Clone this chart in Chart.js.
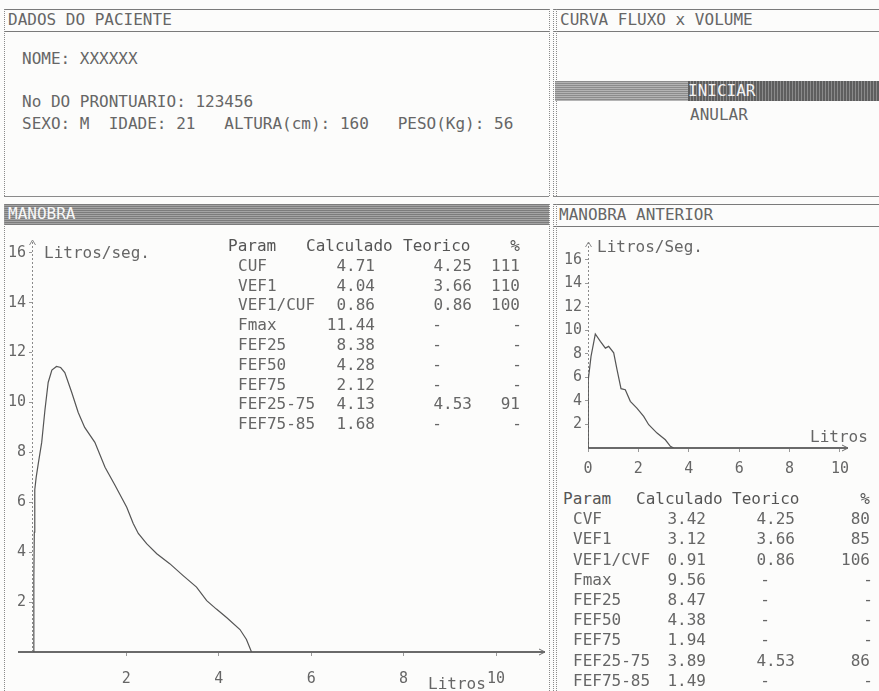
<!DOCTYPE html>
<html>
<head>
<meta charset="utf-8">
<script src="https://cdn.jsdelivr.net/npm/chart.js@4.4.1/dist/chart.umd.min.js"></script>
<style>
  html, body { margin: 0; padding: 0; }
  body {
    width: 879px; height: 691px; position: relative; overflow: hidden;
    background: #fcfcfb; color: #666;
    font-family: 'DejaVu Sans Mono', 'Liberation Mono', monospace; font-size: 16px;
  }
  .t { position: absolute; white-space: pre; line-height: 18px; }
  .ln { position: absolute; box-sizing: border-box; }
  canvas { position: absolute; }
  .bar {
    position: absolute;
    background: repeating-linear-gradient(to bottom, #7c7c7c 0px, #7c7c7c 1px, #a4a4a4 1px, #a4a4a4 2px);
  }
</style>
</head>
<body>
<canvas id="mainChart" width="543" height="462" style="left:5px; top:228px;"></canvas>
<canvas id="prevChart" width="320" height="250" style="left:555px; top:228px;"></canvas>
<script>
'use strict';

// curva da manobra atual (volume em litros, fluxo em L/s)
var mainVol  = [0, 0.00, 0.01, 0.02, 0.05, 0.10, 0.17, 0.24, 0.31, 0.39, 0.49, 0.58, 0.67, 0.82, 0.96, 1.10, 1.32, 1.54, 1.75, 2.01, 2.15, 2.26, 2.44, 2.66, 2.94, 3.23, 3.52, 3.74, 3.95, 4.17, 4.46, 4.60, 4.71];
var mainFlow = [0, 3.0, 4.8, 6.5, 7.0, 7.6, 8.4, 9.7, 10.8, 11.3, 11.44, 11.4, 11.2, 10.4, 9.6, 9.0, 8.4, 7.4, 6.7, 5.8, 5.15, 4.75, 4.34, 3.94, 3.54, 3.06, 2.6, 2.06, 1.72, 1.38, 0.9, 0.5, 0];

// curva da manobra anterior
var prevVol  = [0, 0.00, 0.02, 0.12, 0.29, 0.49, 0.69, 0.82, 1.02, 1.15, 1.31, 1.48, 1.68, 1.94, 2.21, 2.41, 2.74, 3.07, 3.27, 3.40];
var prevFlow = [0, 4.1, 5.8, 7.8, 9.7, 9.07, 8.5, 8.65, 8.1, 6.7, 5.05, 4.96, 3.97, 3.4, 2.69, 1.98, 1.27, 0.7, 0.14, 0];

// ticks
var mainXTicks = [2, 4, 6, 8, 10];
var mainYTicks = [2, 4, 6, 8, 10, 12, 14, 16];
var prevXTicks = [0, 2, 4, 6, 8, 10];
var prevYTicks = [2, 4, 6, 8, 10, 12, 14, 16];

// tabelas
var mainParams = ['CUF', 'VEF1', 'VEF1/CUF', 'Fmax', 'FEF25', 'FEF50', 'FEF75', 'FEF25-75', 'FEF75-85'];
var mainCalc = [4.71, 4.04, 0.86, 11.44, 8.38, 4.28, 2.12, 4.13, 1.68];
var mainTeor = [4.25, 3.66, 0.86, null, null, null, null, 4.53, null];
var mainPct  = [111, 110, 100, null, null, null, null, 91, null];

var prevParams = ['CVF', 'VEF1', 'VEF1/CVF', 'Fmax', 'FEF25', 'FEF50', 'FEF75', 'FEF25-75', 'FEF75-85'];
var prevCalc = [3.42, 3.12, 0.91, 9.56, 8.47, 4.38, 1.94, 3.89, 1.49];
var prevTeor = [4.25, 3.66, 0.86, null, null, null, null, 4.53, null];
var prevPct  = [80, 85, 106, null, null, null, null, 86, null];

// --- helpers de layout ---
function put(text, x, y, align, color) {
  var d = document.createElement('div');
  d.className = 't';
  d.textContent = text;
  if (align === 'right') {
    d.style.left = (x - 300) + 'px'; d.style.width = '300px'; d.style.textAlign = 'right';
  } else if (align === 'center') {
    d.style.left = (x - 50) + 'px'; d.style.width = '100px'; d.style.textAlign = 'center';
  } else {
    d.style.left = x + 'px';
  }
  d.style.top = (y - 9) + 'px';
  if (color) d.style.color = color;
  document.body.appendChild(d);
  return d;
}

function hline(x1, x2, y, style) {
  var d = document.createElement('div');
  d.className = 'ln';
  d.style.left = x1 + 'px'; d.style.top = y + 'px';
  d.style.width = (x2 - x1) + 'px'; d.style.height = '0px';
  d.style.borderTop = style || '1px solid #7a7a7a';
  document.body.appendChild(d);
}

function vline(x, y1, y2, style) {
  var d = document.createElement('div');
  d.className = 'ln';
  d.style.left = x + 'px'; d.style.top = y1 + 'px';
  d.style.width = '0px'; d.style.height = (y2 - y1) + 'px';
  d.style.borderLeft = style || '1px dotted #8a8a8a';
  document.body.appendChild(d);
}

function bar(x, y, w, h, bg) {
  var d = document.createElement('div');
  d.className = 'bar';
  d.style.left = x + 'px'; d.style.top = y + 'px';
  d.style.width = w + 'px'; d.style.height = h + 'px';
  if (bg) d.style.background = bg;
  document.body.appendChild(d);
}

// quadros
hline(4, 549, 9); hline(4, 549, 31); hline(4, 549, 196, '1px solid #8a8a8a');
vline(4, 9, 196); vline(549, 9, 196);
hline(553, 879, 9); hline(553, 879, 31); hline(553, 879, 196, '1px solid #8a8a8a');
vline(553, 9, 196); vline(556, 9, 196);

bar(4, 204, 545, 21);
vline(4, 204, 691); vline(549, 204, 691);
hline(553, 879, 204); hline(553, 879, 226);
vline(553, 204, 691); vline(556, 204, 691);

// dados do paciente
put('DADOS DO PACIENTE', 8, 20);
put('NOME: XXXXXX', 22, 59);
put('No DO PRONTUARIO: 123456', 22, 102);
put('SEXO: M  IDADE: 21   ALTURA(cm): 160   PESO(Kg): 56', 22, 124);

// curva fluxo x volume
put('CURVA FLUXO x VOLUME', 560, 20);
bar(555, 81, 133, 20, 'repeating-linear-gradient(to bottom, #8c8c8c 0px, #8c8c8c 1px, #b4b4b4 1px, #b4b4b4 2px)');
bar(688, 81, 191, 20, 'repeating-linear-gradient(to right, #5e5e5e 0px, #5e5e5e 2px, #8a8a8a 2px, #8a8a8a 3px)');
put('INICIAR', 688, 91, null, '#f4f4f4');
put('ANULAR', 690, 115);

// titulos das manobras
put('MANOBRA', 8, 214, null, '#f8f8f8');
put('MANOBRA ANTERIOR', 559, 215);

// rotulos dos eixos
put('Litros/seg.', 44, 253);
put('Litros', 428, 684);
put('Litros/Seg.', 597, 247);
put('Litros', 810, 437);

function fmt(v) { return v === null ? '-' : v.toFixed(2); }

function table(params, calc, teor, pct, c) {
  put('Param', c.x0, c.y0, null, '#555');
  put('Calculado', c.headCalc, c.y0, null, '#555');
  put('Teorico', c.headTeor, c.y0, null, '#555');
  put('%', c.pctEnd, c.y0, 'right', '#555');
  for (var i = 0; i < params.length; i++) {
    var y = c.y0 + c.dy * (i + 1);
    put(params[i], c.x0 + 10, y);
    put(fmt(calc[i]), c.calcEnd, y, 'right');
    if (teor[i] === null) put('-', c.teorMid, y, 'center');
    else put(fmt(teor[i]), c.teorEnd, y, 'right');
    if (pct[i] === null) put('-', c.pctMid, y, 'center');
    else put(String(pct[i]), c.pctEnd, y, 'right');
  }
}

table(mainParams, mainCalc, mainTeor, mainPct, {
  x0: 228, y0: 246, dy: 19.8, headCalc: 306, headTeor: 403,
  calcEnd: 375, teorEnd: 472, teorMid: 437, pctEnd: 520, pctMid: 517
});
table(prevParams, prevCalc, prevTeor, prevPct, {
  x0: 563, y0: 499, dy: 20.2, headCalc: 636, headTeor: 732,
  calcEnd: 706, teorEnd: 795, teorMid: 765, pctEnd: 870, pctMid: 868
});

// eixos desenhados a partir da chartArea do Chart.js
var axisLines = {
  id: 'axisLines',
  beforeDatasetsDraw: function (chart, args, opts) {
    var a = chart.chartArea, c = chart.ctx;
    var y0 = chart.scales.y.getPixelForValue(0);
    c.save();
    c.strokeStyle = '#8a8a8a'; c.lineWidth = 1; c.setLineDash([2, 2]);
    c.beginPath(); c.moveTo(a.left + 0.5, y0); c.lineTo(a.left + 0.5, a.top); c.stroke();
    c.setLineDash([]);
    c.beginPath();
    c.moveTo(a.left - 2.5, a.top + 5); c.lineTo(a.left + 0.5, a.top); c.lineTo(a.left + 3.5, a.top + 5);
    c.stroke();
    c.strokeStyle = '#6a6a6a'; c.lineWidth = 2;
    c.beginPath(); c.moveTo(a.left - opts.extLeft, y0); c.lineTo(a.right, y0); c.stroke();
    c.lineWidth = 1;
    c.beginPath();
    c.moveTo(a.right - 6, y0 - 3); c.lineTo(a.right, y0); c.lineTo(a.right - 6, y0 + 3);
    c.stroke();
    c.restore();
  }
};

function points(xs, ys) {
  return xs.map(function (v, i) { return { x: v, y: ys[i] }; });
}

function makeChart(id, xs, ys, o) {
  var tickFont = { family: "'DejaVu Sans Mono', monospace", size: 15 };
  return new Chart(document.getElementById(id), {
    type: 'line',
    data: {
      datasets: [{
        data: points(xs, ys),
        borderColor: '#555',
        borderWidth: 1.2,
        pointRadius: 0,
        tension: 0,
        fill: false
      }]
    },
    plugins: [axisLines],
    options: {
      responsive: false,
      animation: false,
      layout: { padding: o.padding },
      plugins: {
        legend: { display: false },
        tooltip: { enabled: false },
        axisLines: { extLeft: o.extLeft }
      },
      scales: {
        x: {
          type: 'linear',
          min: o.xMin, max: o.xMax,
          afterBuildTicks: function (s) { s.ticks = o.xTicks.map(function (v) { return { value: v }; }); },
          afterFit: function (s) { s.height = o.xHeight; },
          border: { display: false },
          grid: { drawOnChartArea: false, drawTicks: true, tickLength: 4, color: '#999' },
          ticks: { color: '#666', font: tickFont, padding: o.xPad, maxRotation: 0, autoSkip: false }
        },
        y: {
          type: 'linear',
          min: 0, max: o.yMax,
          afterBuildTicks: function (s) { s.ticks = o.yTicks.map(function (v) { return { value: v }; }); },
          afterFit: function (s) { s.width = o.yWidth; },
          border: { display: false },
          grid: { drawOnChartArea: false, drawTicks: true, tickLength: 3, color: '#999' },
          ticks: { color: '#666', font: tickFont, padding: 3, autoSkip: false }
        }
      }
    }
  });
}

makeChart('mainChart', mainVol, mainFlow, {
  padding: { left: 0, right: 3, top: 12, bottom: 0 },
  xMin: -0.04, xMax: 11.06, yMax: 16.51,
  xTicks: mainXTicks, yTicks: mainYTicks,
  xHeight: 38, yWidth: 27, xPad: 14, extLeft: 14
});

makeChart('prevChart', prevVol, prevFlow, {
  padding: { left: 0, right: 27, top: 14, bottom: 0 },
  xMin: 0, xMax: 10.32, yMax: 17.53,
  xTicks: prevXTicks, yTicks: prevYTicks,
  xHeight: 30, yWidth: 33, xPad: 8, extLeft: 0
});
</script>
</body>
</html>
